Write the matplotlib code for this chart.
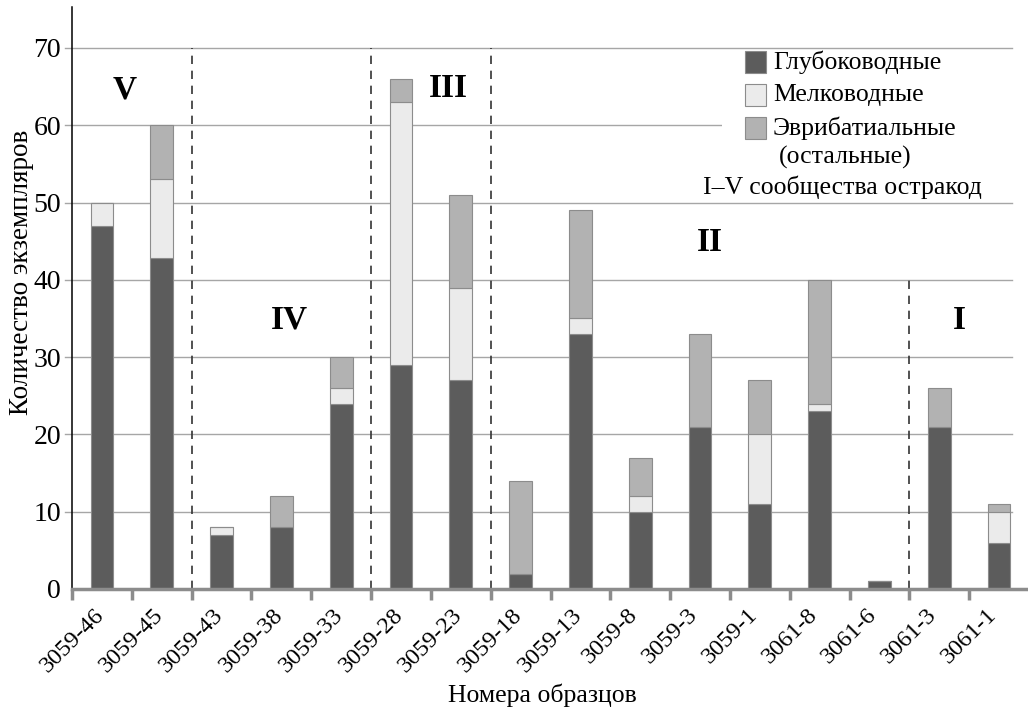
import matplotlib
matplotlib.use('Agg')
import matplotlib.pyplot as plt
from matplotlib.patches import Rectangle
import matplotlib.transforms as mtransforms
import numpy as np

plt.rcParams['font.family'] = ['Liberation Serif', 'DejaVu Serif']

samples = ['3059-46', '3059-45', '3059-43', '3059-38', '3059-33', '3059-28', '3059-23',
           '3059-18', '3059-13', '3059-8', '3059-3', '3059-1', '3061-8', '3061-6',
           '3061-3', '3061-1']
deep = [47, 42.8, 7, 8, 24, 29, 27, 2, 33, 10, 21, 11, 23, 1, 21, 6]
shallow = [3, 10.2, 1, 0, 2, 34, 12, 0, 2, 2, 0, 9, 1, 0, 0, 4]
eury = [0, 7, 0, 4, 4, 3, 12, 12, 14, 5, 12, 7, 16, 0, 5, 1]

series_names = ['Глубоководные', 'Мелководные', 'Эврибатиальные\n(остальные)']
series_colors = ['#5c5c5c', '#ebebeb', '#b2b2b2']

# community boundaries (between categories) and their heights
dividers = [2, 5, 7, 14]
divider_tops = [70, 70, 70, 40]
communities = ['V', 'IV', 'III', 'II', 'I']
community_x = [0.88, 3.63, 6.3, 10.67, 14.83]
community_y = [64.5, 34.8, 64.8, 44.8, 34.8]

fig = plt.figure(figsize=(10.28, 7.11), dpi=100)
ax = fig.add_axes([72 / 1028, 122 / 711, 957 / 1028, 582 / 711])

x = np.arange(len(samples)) + 0.5
bottom = np.zeros(len(samples))
for vals, col in zip([deep, shallow, eury], series_colors):
    vals = np.array(vals, dtype=float)
    ax.bar(x, vals, width=0.38, bottom=bottom, color=col, edgecolor='#8c8c8c',
           linewidth=0.8, zorder=3)
    bottom += vals

ax.set_xlim(0, 16)
ax.set_ylim(0, 75.3)

# grid
for yv in range(10, 80, 10):
    ax.plot([-0.12, 15.72], [yv, yv], color='#a6a6a6', lw=1.0, zorder=1, clip_on=False)
ax.set_yticks(range(0, 80, 10))
ax.tick_params(axis='y', length=0, labelsize=20, pad=8)

ax.set_xticks(range(len(samples)))
ax.set_xticklabels(samples, rotation=45, ha='center', fontsize=17.5)
offset = mtransforms.ScaledTranslation(5 / 100, 0, fig.dpi_scale_trans)
for lbl in ax.get_xticklabels():
    lbl.set_transform(lbl.get_transform() + offset)
ax.tick_params(axis='x', length=8, width=2.5, color='#8c8c8c', pad=3)

for s in ['top', 'right']:
    ax.spines[s].set_visible(False)
ax.spines['bottom'].set_color('#8c8c8c')
ax.spines['bottom'].set_linewidth(2.5)
ax.spines['bottom'].set_zorder(4)
ax.spines['left'].set_linewidth(1.1)
ax.spines['left'].set_color('black')

for dx, top in zip(dividers, divider_tops):
    ax.plot([dx, dx], [0, top], color='#333333', lw=1.2, ls=(0, (5, 4)), zorder=2)

for lab, cx, cy in zip(communities, community_x, community_y):
    ax.text(cx, cy, lab, fontsize=24, fontweight='bold', ha='center', va='center', zorder=5)

fig.text(542 / 1028, 1 - 695 / 711, 'Номера образцов', fontsize=18.5, ha='center', va='center')
fig.text(22 / 1028, 1 - 272 / 711, 'Количество экземпляров', fontsize=19.5, rotation=90,
         ha='center', va='center')

# legend drawn in axes fraction
def fx(px):
    return (px - 72) / 957

def fy(py):
    return (589 - py) / 582

ax.add_patch(Rectangle((fx(722), fy(197)), fx(1028) - fx(722), fy(50) - fy(197),
                       transform=ax.transAxes, facecolor='white', edgecolor='none',
                       zorder=2))
legend_y = [62, 95, 128]
for name, col, ly in zip(series_names, series_colors, legend_y):
    ax.add_patch(Rectangle((fx(745), fy(ly + 11)), fx(766) - fx(745), fy(ly - 11) - fy(ly + 11),
                           transform=ax.transAxes, facecolor=col, edgecolor='#8c8c8c',
                           lw=0.8, zorder=6))
    parts = name.split('\n')
    ax.text(fx(773), fy(ly), parts[0], transform=ax.transAxes, fontsize=18.5,
            va='center', ha='left', zorder=6)
    if len(parts) > 1:
        ax.text(fx(779), fy(ly + 29), parts[1], transform=ax.transAxes, fontsize=18.5,
                va='center', ha='left', zorder=6)
ax.text(fx(703), fy(187), 'I–V сообщества остракод', transform=ax.transAxes, fontsize=18.5,
        va='center', ha='left', zorder=6)

fig.savefig('out.png', dpi=100)
